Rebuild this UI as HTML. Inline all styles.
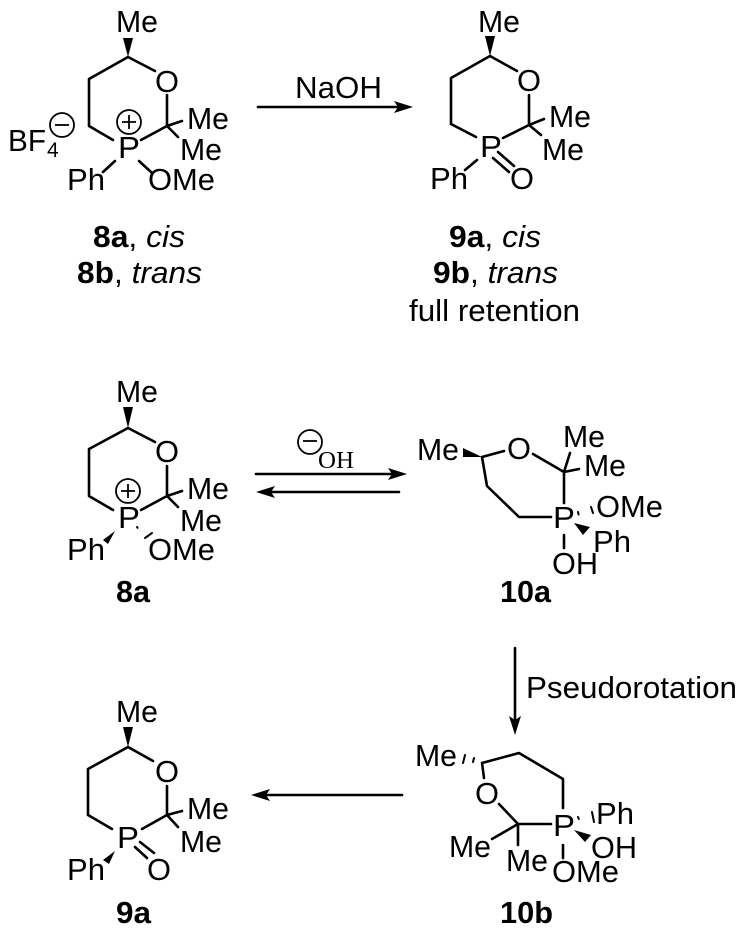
<!DOCTYPE html>
<html><head><meta charset="utf-8"><style>
html,body{margin:0;padding:0;background:#fff}
svg{display:block}
text{font-family:"Liberation Sans",sans-serif;font-size:31px;fill:#000}
.b{fill:none;stroke:#000;stroke-width:2.6;stroke-linecap:round;stroke-linejoin:round}
.t{fill:none;stroke:#000;stroke-width:1.8}
</style></head><body>
<svg width="746" height="936" viewBox="0 0 746 936" xmlns="http://www.w3.org/2000/svg">
<!-- 8 top -->
<path class="b" d="M128 57L155 71M167 95V126M167 126L182 121M167 126L178 137M167 126L141 140M128 57L89 79V126L113 140M115 161L103 172M139 161L151 172"/>
<polygon points="128,57 123,38 133,38"/>
<text x="116" y="32" textLength="42" lengthAdjust="spacingAndGlyphs">Me</text>
<text x="155" y="92" textLength="24" lengthAdjust="spacingAndGlyphs">O</text>
<text x="187" y="129" textLength="42" lengthAdjust="spacingAndGlyphs">Me</text>
<text x="180" y="160" textLength="42" lengthAdjust="spacingAndGlyphs">Me</text>
<text x="118" y="158" textLength="22" lengthAdjust="spacingAndGlyphs">P</text>
<text x="67" y="190" textLength="38" lengthAdjust="spacingAndGlyphs">Ph</text>
<text x="148" y="190" textLength="67" lengthAdjust="spacingAndGlyphs">OMe</text>
<text x="8" y="151" textLength="38" lengthAdjust="spacingAndGlyphs">BF</text>
<text x="47" y="157" style="font-size:21px">4</text>
<circle class="t" cx="129" cy="122" r="12"/><path class="t" d="M122 122H136M129 115V129"/>
<circle class="t" cx="62" cy="125" r="12"/><path class="t" d="M55 125H69"/>
<text x="93" y="247" textLength="92" lengthAdjust="spacingAndGlyphs"><tspan font-weight="bold">8a</tspan>, <tspan font-style="italic">cis</tspan></text>
<text x="77" y="283" textLength="125" lengthAdjust="spacingAndGlyphs"><tspan font-weight="bold">8b</tspan>, <tspan font-style="italic">trans</tspan></text>
<!-- arrow NaOH -->
<path class="b" d="M258 107H400"/><polygon points="413,107 394,101 398,107 394,113"/>
<text x="295" y="98" textLength="87" lengthAdjust="spacingAndGlyphs">NaOH</text>
<!-- 9 top -->
<path class="b" d="M490 56L517 71M529 95V125M529 125L544 119M529 125L541 135M529 125L503 138M490 56L451 78V124L476 137M477 160L465 170M498 152L514 166M493 158L509 172"/>
<polygon points="490,56 485,36 495,36"/>
<text x="478" y="32" textLength="42" lengthAdjust="spacingAndGlyphs">Me</text>
<text x="517" y="91" textLength="24" lengthAdjust="spacingAndGlyphs">O</text>
<text x="549" y="127" textLength="42" lengthAdjust="spacingAndGlyphs">Me</text>
<text x="542" y="160" textLength="42" lengthAdjust="spacingAndGlyphs">Me</text>
<text x="480" y="157" textLength="22" lengthAdjust="spacingAndGlyphs">P</text>
<text x="430" y="189" textLength="38" lengthAdjust="spacingAndGlyphs">Ph</text>
<text x="510" y="189" textLength="24" lengthAdjust="spacingAndGlyphs">O</text>
<text x="449" y="247" textLength="92" lengthAdjust="spacingAndGlyphs"><tspan font-weight="bold">9a</tspan>, <tspan font-style="italic">cis</tspan></text>
<text x="433" y="283" textLength="125" lengthAdjust="spacingAndGlyphs"><tspan font-weight="bold">9b</tspan>, <tspan font-style="italic">trans</tspan></text>
<text x="409" y="321" textLength="171" lengthAdjust="spacingAndGlyphs">full retention</text>
<!-- 8a -->
<path class="b" d="M128 428L155 442M167 466V496M167 496L182 491M167 496L178 507M167 496L141 510M128 428L89 449V496L113 510"/>
<polygon points="128,428 123,407 133,407"/>
<polygon points="115,531 103,540 108,544"/>
<path class="b" d="M137 527L137.6 527.8M145 538L152 533" style="stroke-width:2"/>
<text x="116" y="402" textLength="42" lengthAdjust="spacingAndGlyphs">Me</text>
<text x="155" y="462" textLength="24" lengthAdjust="spacingAndGlyphs">O</text>
<text x="187" y="499" textLength="42" lengthAdjust="spacingAndGlyphs">Me</text>
<text x="180" y="531" textLength="42" lengthAdjust="spacingAndGlyphs">Me</text>
<text x="118" y="528" textLength="22" lengthAdjust="spacingAndGlyphs">P</text>
<text x="67" y="560" textLength="38" lengthAdjust="spacingAndGlyphs">Ph</text>
<text x="148" y="560" textLength="67" lengthAdjust="spacingAndGlyphs">OMe</text>
<circle class="t" cx="128" cy="491" r="12"/><path class="t" d="M121 491H135M128 484V498"/>
<text x="116" y="602" textLength="34" lengthAdjust="spacingAndGlyphs" font-weight="bold">8a</text>
<!-- equilibrium -->
<path class="b" d="M256 474H395"/><polygon points="407,474 388,468 392,474 388,480"/>
<path class="b" d="M399 492H268"/><polygon points="256,492 275,486 271,492 275,498"/>
<circle class="t" cx="310" cy="442" r="12"/><path class="t" d="M303 441H317"/>
<text x="318" y="468" textLength="36" lengthAdjust="spacingAndGlyphs" style="font-family:'Liberation Serif',serif;font-size:24px">OH</text>
<!-- 10a -->
<path class="b" d="M482 457L504 451M533 454L564 472M564 472L570 453M564 472L579 469M564 472V503M482 457L487 486L519 517H551M564 535V548"/>
<polygon points="482,457 463,448 463,457"/>
<polygon points="574,523 590,527 583,535"/>
<path class="b" d="M578 512L578.6 514.5M591 507L593 513" style="stroke-width:2"/>
<text x="417" y="460" textLength="42" lengthAdjust="spacingAndGlyphs">Me</text>
<text x="507" y="459" textLength="24" lengthAdjust="spacingAndGlyphs">O</text>
<text x="563" y="447" textLength="42" lengthAdjust="spacingAndGlyphs">Me</text>
<text x="584" y="476" textLength="42" lengthAdjust="spacingAndGlyphs">Me</text>
<text x="553" y="528" textLength="22" lengthAdjust="spacingAndGlyphs">P</text>
<text x="596" y="517" textLength="67" lengthAdjust="spacingAndGlyphs">OMe</text>
<text x="593" y="552" textLength="38" lengthAdjust="spacingAndGlyphs">Ph</text>
<text x="552" y="574" textLength="46" lengthAdjust="spacingAndGlyphs">OH</text>
<text x="500" y="602" textLength="51" lengthAdjust="spacingAndGlyphs" font-weight="bold">10a</text>
<!-- pseudorotation -->
<path class="b" d="M515 648V722"/><polygon points="515,735 509,716 515,720 521,716"/>
<text x="526" y="698" textLength="211" lengthAdjust="spacingAndGlyphs">Pseudorotation</text>
<!-- 10b -->
<path class="b" d="M482 763L519 753L563 779V808M482 763L484 778M499 804L518 824M518 824H551M518 824L492 839M518 824V845M563 845V858"/>
<path class="b" d="M463 763L465 755M473 762L474 758M578 817L578.8 819M592 812L594 822" style="stroke-width:2"/>
<polygon points="574,830 591,835 585,842"/>
<text x="415" y="766" textLength="42" lengthAdjust="spacingAndGlyphs">Me</text>
<text x="475" y="804" textLength="24" lengthAdjust="spacingAndGlyphs">O</text>
<text x="449" y="857" textLength="42" lengthAdjust="spacingAndGlyphs">Me</text>
<text x="506" y="871" textLength="42" lengthAdjust="spacingAndGlyphs">Me</text>
<text x="553" y="836" textLength="22" lengthAdjust="spacingAndGlyphs">P</text>
<text x="552" y="882" textLength="67" lengthAdjust="spacingAndGlyphs">OMe</text>
<text x="596" y="824" textLength="38" lengthAdjust="spacingAndGlyphs">Ph</text>
<text x="591" y="858" textLength="46" lengthAdjust="spacingAndGlyphs">OH</text>
<text x="500" y="923" textLength="53" lengthAdjust="spacingAndGlyphs" font-weight="bold">10b</text>
<!-- bottom arrow -->
<path class="b" d="M402 795H264"/><polygon points="251,795 270,789 266,795 270,801"/>
<!-- 9a bottom -->
<path class="b" d="M128 747L153 761M167 786V815M167 815L182 811M167 815L178 827M167 815L142 829M128 747L88 769V815L112 829M135 847L147 858M140 842L154 853"/>
<polygon points="128,747 123,727 133,727"/>
<polygon points="115,851 103,860 109,864"/>
<text x="116" y="722" textLength="42" lengthAdjust="spacingAndGlyphs">Me</text>
<text x="155" y="782" textLength="24" lengthAdjust="spacingAndGlyphs">O</text>
<text x="187" y="819" textLength="42" lengthAdjust="spacingAndGlyphs">Me</text>
<text x="180" y="852" textLength="42" lengthAdjust="spacingAndGlyphs">Me</text>
<text x="117" y="848" textLength="22" lengthAdjust="spacingAndGlyphs">P</text>
<text x="67" y="880" textLength="38" lengthAdjust="spacingAndGlyphs">Ph</text>
<text x="147" y="880" textLength="24" lengthAdjust="spacingAndGlyphs">O</text>
<text x="116" y="923" textLength="35" lengthAdjust="spacingAndGlyphs" font-weight="bold">9a</text>
</svg>
</body></html>
